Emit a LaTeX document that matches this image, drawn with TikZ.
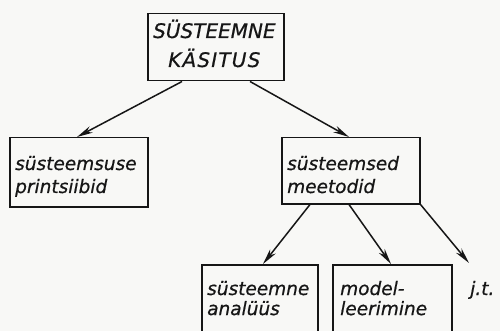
\documentclass[tikz,border=0pt]{standalone}
\usepackage{fontspec}
\setsansfont{DejaVu Sans}[FakeBold=0.6]
\usetikzlibrary{arrows.meta}
\definecolor{ink}{HTML}{161616}
\definecolor{paper}{HTML}{F8F8F6}
\newcommand{\twolines}[2]{\begin{tabular}[t]{@{}l@{}}#1\\#2\end{tabular}}
\tikzset{
  frame/.style={draw=ink, line width=1.5pt, anchor=north west, inner sep=0pt, rectangle},
  txt/.style={anchor=base west, inner sep=0pt, text=ink, font=\sffamily\itshape\fontsize{18.5}{23}\selectfont},
  captxt/.style={anchor=base west, inner sep=0pt, text=ink, font=\sffamily\itshape\fontsize{20}{29}\selectfont},
  lowtxt/.style={txt, font=\sffamily\itshape\fontsize{18.5}{20}\selectfont},
  link/.style={draw=ink, line width=1.5pt, -{Stealth[length=16pt, width=7pt, inset=5pt]}}
}
\begin{document}
\begin{tikzpicture}[x=1pt, y=-1pt]
  \path[use as bounding box, fill=paper] (0,0) rectangle (500,331);
  \clip (0,0) rectangle (500,331);
  % boxes
  \node[frame, minimum width=136pt, minimum height=67pt] (top) at (147,13) {};
  \node[frame, minimum width=138pt, minimum height=69pt] (ls) at (9,137) {};
  \node[frame, minimum width=138pt, minimum height=66pt] (ms) at (281,137) {};
  \node[frame, minimum width=116pt, minimum height=85pt] (a) at (201,264) {};
  \node[frame, minimum width=119pt, minimum height=85pt] (b) at (332,264) {};
  % texts
  \node[captxt] (ttop) at (153,38) {\twolines{SÜSTEEMNE}{\hspace*{15pt}{\addfontfeature{LetterSpace=6}KÄSITUS}}};
  \node[txt] (tls) at (15,170) {\twolines{süsteemsuse}{printsiibid}};
  \node[txt] (tms) at (287,170) {\twolines{süsteemsed}{meetodid}};
  \node[lowtxt] (ta) at (207,295) {\twolines{süsteemne}{analüüs}};
  \node[lowtxt] (tb) at (340,295) {\twolines{model-}{leerimine}};
  \node[txt] (jt) at (470,295) {j.t.};
  \coordinate (jtend) at (469,263);
  % connectors
  \draw[link] ([xshift=35pt]top.south west) -- ([xshift=68pt]ls.north west);
  \draw[link] ([xshift=103pt]top.south west) -- ([xshift=68pt]ms.north west);
  \draw[link] ([xshift=29pt]ms.south west) -- ([xshift=62pt]a.north west);
  \draw[link] ([xshift=68pt]ms.south west) -- ([xshift=59pt]b.north west);
  \draw[link] (ms.south east) -- (jtend);
\end{tikzpicture}
\end{document}
